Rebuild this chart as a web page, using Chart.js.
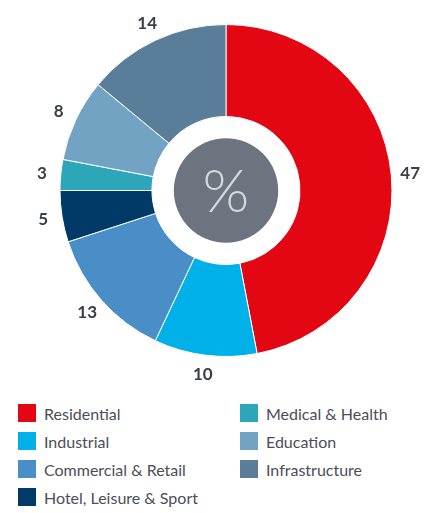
<!DOCTYPE html>
<html>
<head>
<meta charset="utf-8">
<script src="https://cdn.jsdelivr.net/npm/chart.js@4"></script>
<style>
  html, body { margin: 0; padding: 0; background: #fff; }
  body { width: 448px; height: 513px; overflow: hidden; font-family: Lato, sans-serif; }
  #wrap { position: relative; width: 448px; height: 390px; }
  #legend { position: absolute; left: 18px; top: 404px; width: 430px; }
  .item { position: absolute; height: 18px; display: flex; align-items: center; font-size: 16px; color: #4a4e58; white-space: nowrap; }
  .box { width: 18px; height: 18px; margin-right: 8px; flex: none; }
</style>
</head>
<body>
<div id="wrap"><canvas id="myChart" width="448" height="390"></canvas></div>
<div id="legend"></div>
<script>
const labels = [
    'Residential',
    'Industrial',
    'Commercial & Retail',
    'Hotel, Leisure & Sport',
    'Medical & Health',
    'Education',
    'Infrastructure',
];
const values = [47, 10, 13, 5, 3, 8, 14];
const colours = ['#e30613', '#00b1e9', '#4a8ec8', '#013a66', '#2ca6b8', '#72a3c3', '#5a7e99'];
const centreText = '%';

// numbers outside the ring + grey disc in the middle
const extras = {
    id: 'extras',
    afterDatasetsDraw(chart) {
        const ctx = chart.ctx;
        const meta = chart.getDatasetMeta(0);
        const first = meta.data[0];
        const cx = first.x, cy = first.y;
        ctx.save();
        ctx.fillStyle = '#6d7480';
        ctx.beginPath();
        ctx.arc(cx, cy, first.innerRadius * 0.705, 0, Math.PI * 2);
        ctx.fill();
        ctx.fillStyle = '#d3d8df';
        ctx.font = '300 60px Lato';
        ctx.textAlign = 'center';
        ctx.textBaseline = 'middle';
        ctx.fillText(centreText, cx, cy + 2);

        ctx.fillStyle = '#3b3e48';
        ctx.font = 'bold 17px Lato';
        meta.data.forEach((arc, i) => {
            const mid = (arc.startAngle + arc.endAngle) / 2;
            const r = arc.outerRadius + 19;
            ctx.fillText(values[i], cx + Math.cos(mid) * r, cy + Math.sin(mid) * r);
        });
        ctx.restore();
    }
};

new Chart(document.getElementById('myChart'), {
    type: 'doughnut',
    data: {
        labels: labels,
        datasets: [{
            data: values,
            backgroundColor: colours,
            borderColor: '#ffffff',
            borderWidth: 1,
        }]
    },
    options: {
        responsive: false,
        animation: false,
        cutout: '44.6%',
        layout: { padding: { top: 24, bottom: 33, left: 59, right: 55 } },
        plugins: { legend: { display: false }, tooltip: { enabled: false } }
    },
    plugins: [extras]
});

// legend in two columns
const legend = document.getElementById('legend');
labels.forEach((name, i) => {
    const col = i < 4 ? 0 : 1;
    const row = i < 4 ? i : i - 4;
    const el = document.createElement('div');
    el.className = 'item';
    el.style.left = (col * 222) + 'px';
    el.style.top = (row * 28) + 'px';
    el.innerHTML = '<span class="box" style="background:' + colours[i] + '"></span>';
    el.appendChild(document.createTextNode(name));
    legend.appendChild(el);
});
</script>
</body>
</html>
